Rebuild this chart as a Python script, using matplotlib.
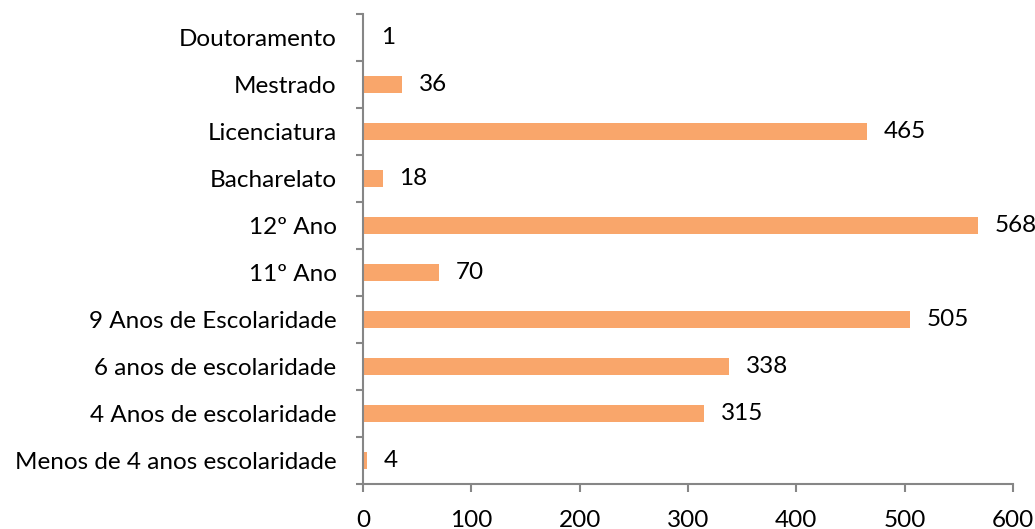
import matplotlib
matplotlib.use("Agg")
import matplotlib.pyplot as plt
import numpy as np

categories = ["Menos de 4 anos escolaridade", "4 Anos de escolaridade",
              "6 anos de escolaridade", "9 Anos de Escolaridade",
              "11º Ano", "12º Ano", "Bacharelato", "Licenciatura",
              "Mestrado", "Doutoramento"]
values = [4, 315, 338, 505, 70, 568, 18, 465, 36, 1]
x_ticks = [0, 100, 200, 300, 400, 500, 600]

bar_color = "#F9A66B"
axis_color = "#868686"

plt.rcParams['font.family'] = ['Lato', 'DejaVu Sans']
fs = 17.5

fig = plt.figure(figsize=(10.35, 5.29), dpi=100)
ax = fig.add_axes([363 / 1035, 45 / 529, 650 / 1035, 470 / 529])

y = np.arange(len(categories))
ax.barh(y, values, height=0.38, color=bar_color)

for yi, v in zip(y, values):
    ax.annotate(str(v), (v, yi), xytext=(12, 0), textcoords="offset points",
                va="center", ha="left", fontsize=fs, color="black")

ax.set_xlim(0, 600)
ax.set_ylim(-0.5, len(categories) - 0.5)
ax.set_xticks(x_ticks)
ax.set_xticklabels([str(t) for t in x_ticks], fontsize=fs)
ax.set_yticks(y)
ax.set_yticklabels(categories, fontsize=fs)
ax.set_yticks(np.arange(-0.5, len(categories)), minor=True)

ax.tick_params(axis="y", which="major", length=0, pad=19)
ax.tick_params(axis="y", which="minor", length=5, width=1.5, color=axis_color, direction="out")
ax.tick_params(axis="x", which="major", length=6, width=1.5, color=axis_color, direction="out", pad=13)

for s in ["top", "right"]:
    ax.spines[s].set_visible(False)
for s in ["left", "bottom"]:
    ax.spines[s].set_color(axis_color)
    ax.spines[s].set_linewidth(1.5)

fig.savefig("out.png", dpi=100)
